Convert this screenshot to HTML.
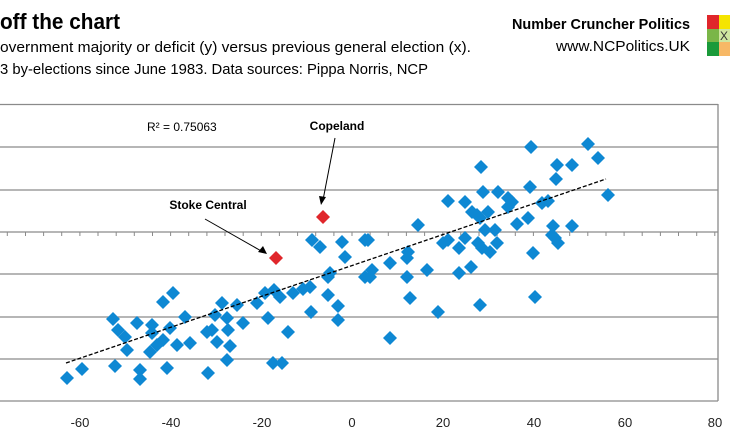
<!DOCTYPE html>
<html><head><meta charset="utf-8"><style>body{margin:0;background:#fff}svg{display:block}</style></head><body>
<svg width="730" height="430" xmlns="http://www.w3.org/2000/svg" xmlns:xlink="http://www.w3.org/1999/xlink" font-family="Liberation Sans, sans-serif">
<defs><polygon id="d" points="0,-7 7,0 0,7 -7,0" fill="#0e88d3"/></defs>
<text x="0" y="29" font-size="22" font-weight="bold" textLength="120" lengthAdjust="spacingAndGlyphs">off the chart</text>
<text x="0" y="52" font-size="15" textLength="471" lengthAdjust="spacingAndGlyphs">overnment majority or deficit (y) versus previous general election (x).</text>
<text x="0" y="74" font-size="15" textLength="428" lengthAdjust="spacingAndGlyphs">3 by-elections since June 1983. Data sources: Pippa Norris, NCP</text>
<text x="690" y="29" font-size="15" font-weight="bold" text-anchor="end" textLength="178" lengthAdjust="spacingAndGlyphs">Number Cruncher Politics</text>
<text x="690" y="51" font-size="15" text-anchor="end" textLength="134" lengthAdjust="spacingAndGlyphs">www.NCPolitics.UK</text>
<rect x="707" y="15" width="12" height="14" fill="#e0262b"/><rect x="719" y="15" width="11" height="14" fill="#f5e400"/>
<rect x="707" y="29" width="12" height="13" fill="#7ab648"/><rect x="719" y="29" width="11" height="13" fill="#cfe6a0"/>
<text x="720" y="40" font-size="12" fill="#333">X</text>
<rect x="707" y="42" width="12" height="14" fill="#1a9a3a"/><rect x="719" y="42" width="11" height="14" fill="#f7b866"/>
<g stroke="#8a8a8a" stroke-width="1.3">
<line x1="0" y1="104.5" x2="718" y2="104.5"/>
<line x1="718" y1="104" x2="718" y2="401"/>
<line x1="0" y1="147" x2="718" y2="147"/><line x1="0" y1="190" x2="718" y2="190"/>
<line x1="0" y1="232" x2="718" y2="232"/><line x1="0" y1="274" x2="718" y2="274"/>
<line x1="0" y1="317" x2="718" y2="317"/><line x1="0" y1="359" x2="718" y2="359"/>
<line x1="0" y1="401" x2="718" y2="401"/>
</g>
<path stroke="#8a8a8a" stroke-width="1" fill="none" d="M7.3 232v4M25.5 232v4M43.6 232v4M61.7 232v4M79.9 232v4M98 232v4M116.2 232v4M134.3 232v4M152.5 232v4M170.6 232v4M188.7 232v4M206.9 232v4M225 232v4M243.2 232v4M261.3 232v4M279.4 232v4M297.6 232v4M315.7 232v4M333.9 232v4M352 232v4M370.1 232v4M388.3 232v4M406.4 232v4M424.6 232v4M442.7 232v4M460.8 232v4M479 232v4M497.1 232v4M515.3 232v4M533.4 232v4M551.5 232v4M569.7 232v4M587.8 232v4M606 232v4M624.1 232v4M642.2 232v4M660.4 232v4M678.5 232v4M696.7 232v4M714.8 232v4"/>
<g font-size="13" text-anchor="middle" fill="#222">
<text x="80" y="427">-60</text><text x="171" y="427">-40</text><text x="262" y="427">-20</text><text x="352" y="427">0</text>
<text x="443" y="427">20</text><text x="534" y="427">40</text><text x="625" y="427">60</text><text x="715" y="427">80</text>
</g>
<text x="147" y="131" font-size="12">R² = 0.75063</text>
<text x="337" y="130" font-size="12" font-weight="bold" text-anchor="middle">Copeland</text>
<text x="208" y="209" font-size="12" font-weight="bold" text-anchor="middle">Stoke Central</text>
<g stroke="#000" stroke-width="1"><line x1="335" y1="138" x2="323" y2="200"/><line x1="205" y1="219" x2="263" y2="252"/></g>
<polygon points="321,205 319,196 326,197" fill="#000"/><polygon points="267,254 258,252 263,246" fill="#000"/>
<g>
<use href="#d" x="67" y="378"/><use href="#d" x="82" y="369"/><use href="#d" x="115" y="366"/><use href="#d" x="140" y="370"/><use href="#d" x="140" y="379"/><use href="#d" x="167" y="368"/><use href="#d" x="208" y="373"/><use href="#d" x="227" y="360"/><use href="#d" x="273" y="363"/><use href="#d" x="282" y="363"/>
<use href="#d" x="113" y="319"/><use href="#d" x="118" y="330"/><use href="#d" x="125" y="337"/><use href="#d" x="127" y="350"/><use href="#d" x="137" y="323"/><use href="#d" x="152" y="325"/><use href="#d" x="152" y="333"/><use href="#d" x="150" y="352"/><use href="#d" x="157" y="345"/><use href="#d" x="163" y="340"/>
<use href="#d" x="170" y="328"/><use href="#d" x="177" y="345"/><use href="#d" x="163" y="302"/><use href="#d" x="173" y="293"/><use href="#d" x="185" y="317"/><use href="#d" x="190" y="343"/><use href="#d" x="207" y="332"/><use href="#d" x="212" y="330"/><use href="#d" x="217" y="342"/><use href="#d" x="215" y="315"/>
<use href="#d" x="222" y="303"/><use href="#d" x="227" y="318"/><use href="#d" x="228" y="330"/><use href="#d" x="230" y="346"/><use href="#d" x="237" y="305"/><use href="#d" x="243" y="323"/><use href="#d" x="257" y="303"/><use href="#d" x="265" y="293"/><use href="#d" x="268" y="318"/><use href="#d" x="274" y="290"/>
<use href="#d" x="280" y="297"/><use href="#d" x="288" y="332"/><use href="#d" x="293" y="293"/><use href="#d" x="303" y="289"/><use href="#d" x="310" y="287"/><use href="#d" x="311" y="312"/><use href="#d" x="328" y="295"/><use href="#d" x="328" y="277"/><use href="#d" x="330" y="273"/><use href="#d" x="338" y="306"/>
<use href="#d" x="338" y="320"/><use href="#d" x="312" y="240"/><use href="#d" x="320" y="247"/><use href="#d" x="342" y="242"/><use href="#d" x="345" y="257"/><use href="#d" x="365" y="240"/><use href="#d" x="365" y="277"/><use href="#d" x="368" y="240"/><use href="#d" x="370" y="277"/><use href="#d" x="372" y="270"/>
<use href="#d" x="390" y="263"/><use href="#d" x="390" y="338"/><use href="#d" x="407" y="277"/><use href="#d" x="407" y="258"/><use href="#d" x="408" y="252"/><use href="#d" x="410" y="298"/><use href="#d" x="418" y="225"/><use href="#d" x="427" y="270"/><use href="#d" x="438" y="312"/><use href="#d" x="443" y="243"/>
<use href="#d" x="448" y="201"/><use href="#d" x="448" y="240"/><use href="#d" x="459" y="248"/><use href="#d" x="459" y="273"/><use href="#d" x="465" y="202"/><use href="#d" x="465" y="238"/><use href="#d" x="471" y="267"/><use href="#d" x="472" y="212"/><use href="#d" x="477" y="215"/><use href="#d" x="480" y="218"/>
<use href="#d" x="481" y="167"/><use href="#d" x="480" y="305"/><use href="#d" x="478" y="243"/><use href="#d" x="482" y="248"/><use href="#d" x="483" y="192"/><use href="#d" x="485" y="230"/><use href="#d" x="488" y="212"/><use href="#d" x="490" y="252"/><use href="#d" x="495" y="230"/><use href="#d" x="497" y="243"/>
<use href="#d" x="498" y="192"/><use href="#d" x="508" y="198"/><use href="#d" x="508" y="207"/><use href="#d" x="512" y="202"/><use href="#d" x="517" y="224"/><use href="#d" x="528" y="218"/><use href="#d" x="530" y="187"/><use href="#d" x="531" y="147"/><use href="#d" x="533" y="253"/><use href="#d" x="535" y="297"/>
<use href="#d" x="542" y="203"/><use href="#d" x="548" y="201"/><use href="#d" x="553" y="226"/><use href="#d" x="552" y="235"/><use href="#d" x="555" y="238"/><use href="#d" x="558" y="243"/><use href="#d" x="556" y="179"/><use href="#d" x="557" y="165"/><use href="#d" x="572" y="165"/><use href="#d" x="572" y="226"/>
<use href="#d" x="588" y="144"/><use href="#d" x="598" y="158"/><use href="#d" x="608" y="195"/>
</g>
<line x1="66" y1="363" x2="606" y2="179" stroke="#000" stroke-width="1.3" stroke-dasharray="4,2"/>
<g fill="#e0262b"><polygon points="276,251 283,258 276,265 269,258"/><polygon points="323,210 330,217 323,224 316,217"/></g>
</svg>
</body></html>
